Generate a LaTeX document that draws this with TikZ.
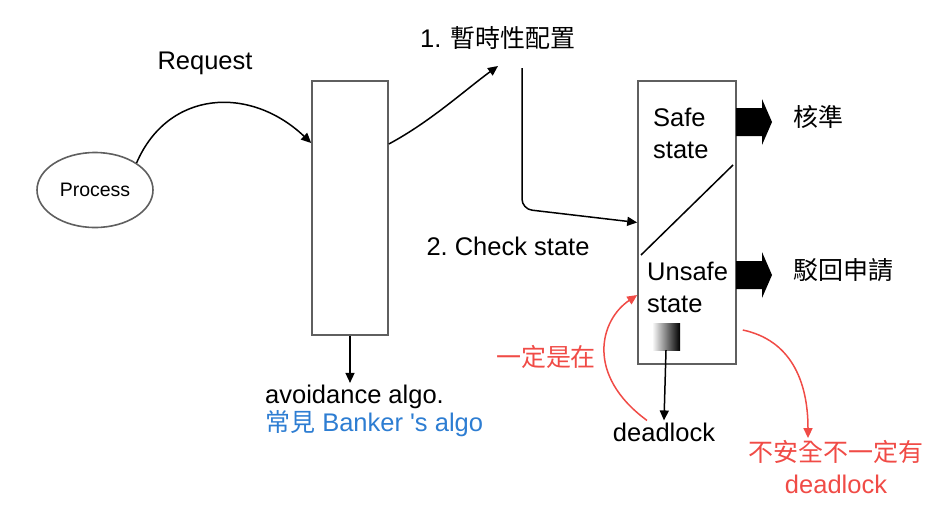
\documentclass[tikz,border=0pt]{standalone}
\usepackage{fontspec}
\setmainfont{Liberation Sans}
\newfontfamily\rawfont{Liberation Sans}
\newfontfamily\cjk{Noto Sans CJK TC}[Scale=0.98]
\usetikzlibrary{shapes.geometric,arrows.meta}
\definecolor{boxgray}{RGB}{95,95,95}
\definecolor{notered}{RGB}{240,75,70}
\definecolor{noteblue}{RGB}{45,125,210}
\tikzset{
  box/.style={
    draw=boxgray,
    line width=1.6,
    inner sep=0pt,
  },
  txt/.style={
    font=\fontsize{25.5}{32}\selectfont,
    align=left,
    inner sep=2pt,
  },
  note/.style={
    txt,
    text=notered,
  },
  arr/.style={
    -{Triangle[length=10pt,width=9pt]},
    line width=1.5,
  }
}

\begin{document}
\begin{tikzpicture}[x=1pt, y=-1pt]
  \useasboundingbox (0, 0) rectangle (952, 520);

  % boxes
  \node[box, ellipse, minimum width=116, minimum height=75,
    font=\fontsize{19.5}{22}\selectfont] (process) at (95, 190) {Process};
  \node[box, minimum width=76, minimum height=254] (algo) at (350, 208) {};
  \node[box, minimum width=98, minimum height=283] (state) at (687, 222.5) {};
  \node[minimum width=28, minimum height=27, inner sep=0pt,
    left color=white, right color=black] (dl) at (666, 336.5) {};

  % texts
  \node[txt] (request) at (205, 63) {Request};
  \node[txt] (tmp) at (498, 38) {1. {\cjk 暫時性配置}};
  \node[txt] (check) at (508, 246) {2.\ Check state};
  \node[txt, anchor=west] (safe) at (651, 133) {Safe\\state};
  \node[txt, anchor=west] (unsafe) at (645, 287) {Unsafe\\state};
  \node[txt] (approve) at (818, 117) {\cjk 核準};
  \node[txt] (reject) at (843, 270) {\cjk 駁回申請};
  \node[txt] (deadlock) at (664, 432) {deadlock};
  \node[txt, anchor=west] (avoid) at (263, 397) {avoidance algo.};
  \node[txt, anchor=west, text=noteblue] (banker) at (263, 424) {{\cjk 常見} Banker {\rawfont '}s algo};
  \node[note] (always) at (546, 357) {\cjk 一定是在};
  \node[note, align=center] (maybe) at (836, 467) {{\cjk 不安全不一定有}\\deadlock};

  \coordinate (tmpin) at (498, 66);
  \coordinate (tmpout) at (522, 68);

  % connectors
  \draw[arr] (process.north east) .. controls (168, 90) and (250, 85) .. ([yshift=65]algo.west);
  \draw[arr] ([yshift=64]algo.east) .. controls (430, 122) and (465, 90) .. (tmpin);
  \draw[arr, rounded corners=10] (tmpout) -- (522, 209) -- (state.west);
  \draw[arr] (algo.south) -- (algo.south |- avoid.north);
  \draw[arr] (dl.south) -- (deadlock.north);

  \draw[line width=1.5] (641, 255) -- (733, 165);

  \foreach \y in {122, 275}
    \fill (736, \y-14) -- (762, \y-14) -- (762, \y-23) -- (772, \y)
      -- (762, \y+23) -- (762, \y+14) -- (736, \y+14) -- cycle;

  \draw[arr, notered] ([xshift=-17]deadlock.north) .. controls (585, 375) and (600, 320)
    .. ([yshift=-72.5]state.west);
  \draw[arr, notered] ([xshift=6, yshift=-107.5]state.east) .. controls (790, 340) and (808, 380)
    .. (maybe.north -| 808, 0);

\end{tikzpicture}
\end{document}
